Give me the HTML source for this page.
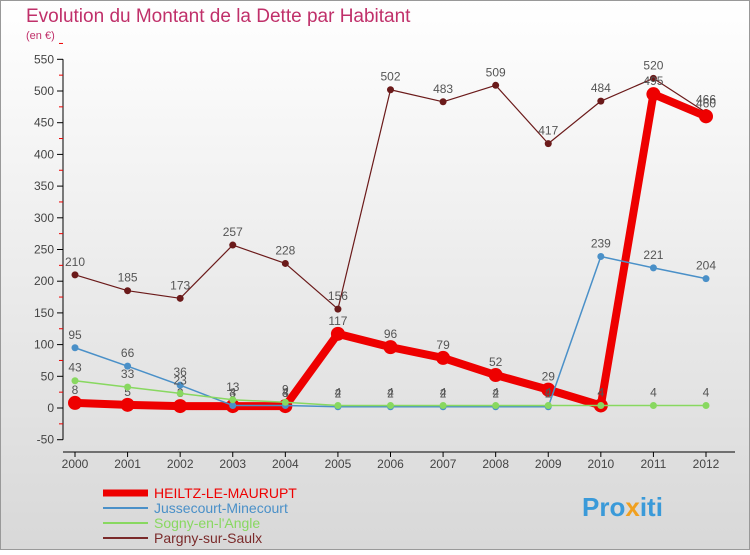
<!DOCTYPE html>
<html><head><meta charset="utf-8"><style>
body{margin:0;width:750px;height:550px;overflow:hidden;font-family:"Liberation Sans",sans-serif}
</style></head><body>
<svg width="750" height="550" xmlns="http://www.w3.org/2000/svg">
<defs><linearGradient id="bg" x1="0" y1="0" x2="0" y2="1"><stop offset="0" stop-color="#ffffff"/><stop offset="1" stop-color="#d8d8d8"/></linearGradient></defs>
<rect x="0.5" y="0.5" width="749" height="549" fill="url(#bg)" stroke="#999"/>
<text x="26" y="22" font-size="19" fill="#c0306a">Evolution du Montant de la Dette par Habitant</text>
<text x="26" y="39" font-size="11" fill="#c0306a">(en €)</text>
<g id="axes"></g>
<g id="series"></g>
<g>
<line x1="103" y1="493" x2="148" y2="493" stroke="#e00" stroke-width="7"/>
<text x="154" y="498" font-size="14" fill="#e00">HEILTZ-LE-MAURUPT</text>
<line x1="103" y1="508" x2="148" y2="508" stroke="#4a90c8" stroke-width="2"/>
<text x="154" y="513" font-size="14" fill="#4a90c8">Jussecourt-Minecourt</text>
<line x1="103" y1="523" x2="148" y2="523" stroke="#88d860" stroke-width="2"/>
<text x="154" y="528" font-size="14" fill="#88d860">Sogny-en-l'Angle</text>
<line x1="103" y1="538" x2="148" y2="538" stroke="#7a2a2a" stroke-width="2"/>
<text x="154" y="543" font-size="14" fill="#7a2a2a">Pargny-sur-Saulx</text>
</g>
<text x="582" y="516" font-size="26" font-weight="bold" fill="#3a9ad9">Pro<tspan fill="#f0a020">x</tspan>iti</text>
</svg>
<script>
const years=[2000,2001,2002,2003,2004,2005,2006,2007,2008,2009,2010,2011,2012];
const yTicks=[-50,0,50,100,150,200,250,300,350,400,450,500,550];
const heiltz=[8,5,3,3,3,117,96,79,52,29,4,495,460];
const jussecourt=[95,66,36,4,4,2,2,2,2,2,239,221,204];
const sogny=[43,33,23,13,9,4,4,4,4,4,4,4,4];
const pargny=[210,185,173,257,228,156,502,483,509,417,484,520,466];
const NS='http://www.w3.org/2000/svg';
function X(i){return 75+i*(706-75)/12;}
function Y(v){return 408-v*(408-91)/500;}
function mk(tag,attrs,parent,text){const e=document.createElementNS(NS,tag);for(const k in attrs)e.setAttribute(k,attrs[k]);if(text!==undefined)e.textContent=text;parent.appendChild(e);return e;}
const ax=document.getElementById('axes');
let l=mk('line',{x1:63,y1:Y(550),x2:63,y2:Y(-50),stroke:'#000'},ax);


l=mk('line',{x1:63,y1:452,x2:735,y2:452,stroke:'#000'},ax);


yTicks.forEach(v=>{
 mk('line',{x1:57,y1:Y(v),x2:63,y2:Y(v),stroke:'#000'},ax);
 mk('line',{x1:59,y1:Y(v+25),x2:63,y2:Y(v+25),stroke:'#e00'},ax);
 const t=mk('text',{x:54,y:Y(v)+4,'font-size':12,fill:'#444','text-anchor':'end'},ax,v);
 
 
});
years.forEach((yr,i)=>{
 mk('line',{x1:X(i),y1:452,x2:X(i),y2:457,stroke:'#000'},ax);
 const t=mk('text',{x:X(i),y:468,'font-size':12,fill:'#444','text-anchor':'middle'},ax,yr);
 
 
});
const sg=document.getElementById('series');
function draw(data,color,w,r,name){
 const g=mk('g',{},sg);
 
 
 const p=mk('polyline',{points:data.map((v,i)=>X(i)+','+Y(v)).join(' '),fill:'none',stroke:color,'stroke-width':w,'stroke-linejoin':'round'},g);
 
 
 data.forEach((v,i)=>{
  const c=mk('circle',{cx:X(i),cy:Y(v),r:r,fill:color},g);
  
  
  const t=mk('text',{x:X(i),y:Y(v)-9,'font-size':12,fill:'#555','text-anchor':'middle'},g,v);
  
  
 });
}
draw(pargny,'#6b1a1a',1.2,3.5,'pargny');
draw(heiltz,'#ee0000',8,7,'heiltz');
draw(jussecourt,'#4a90c8',1.5,3.5,'jussecourt');
draw(sogny,'#88d860',1.5,3.5,'sogny');
</script>
</body></html>
